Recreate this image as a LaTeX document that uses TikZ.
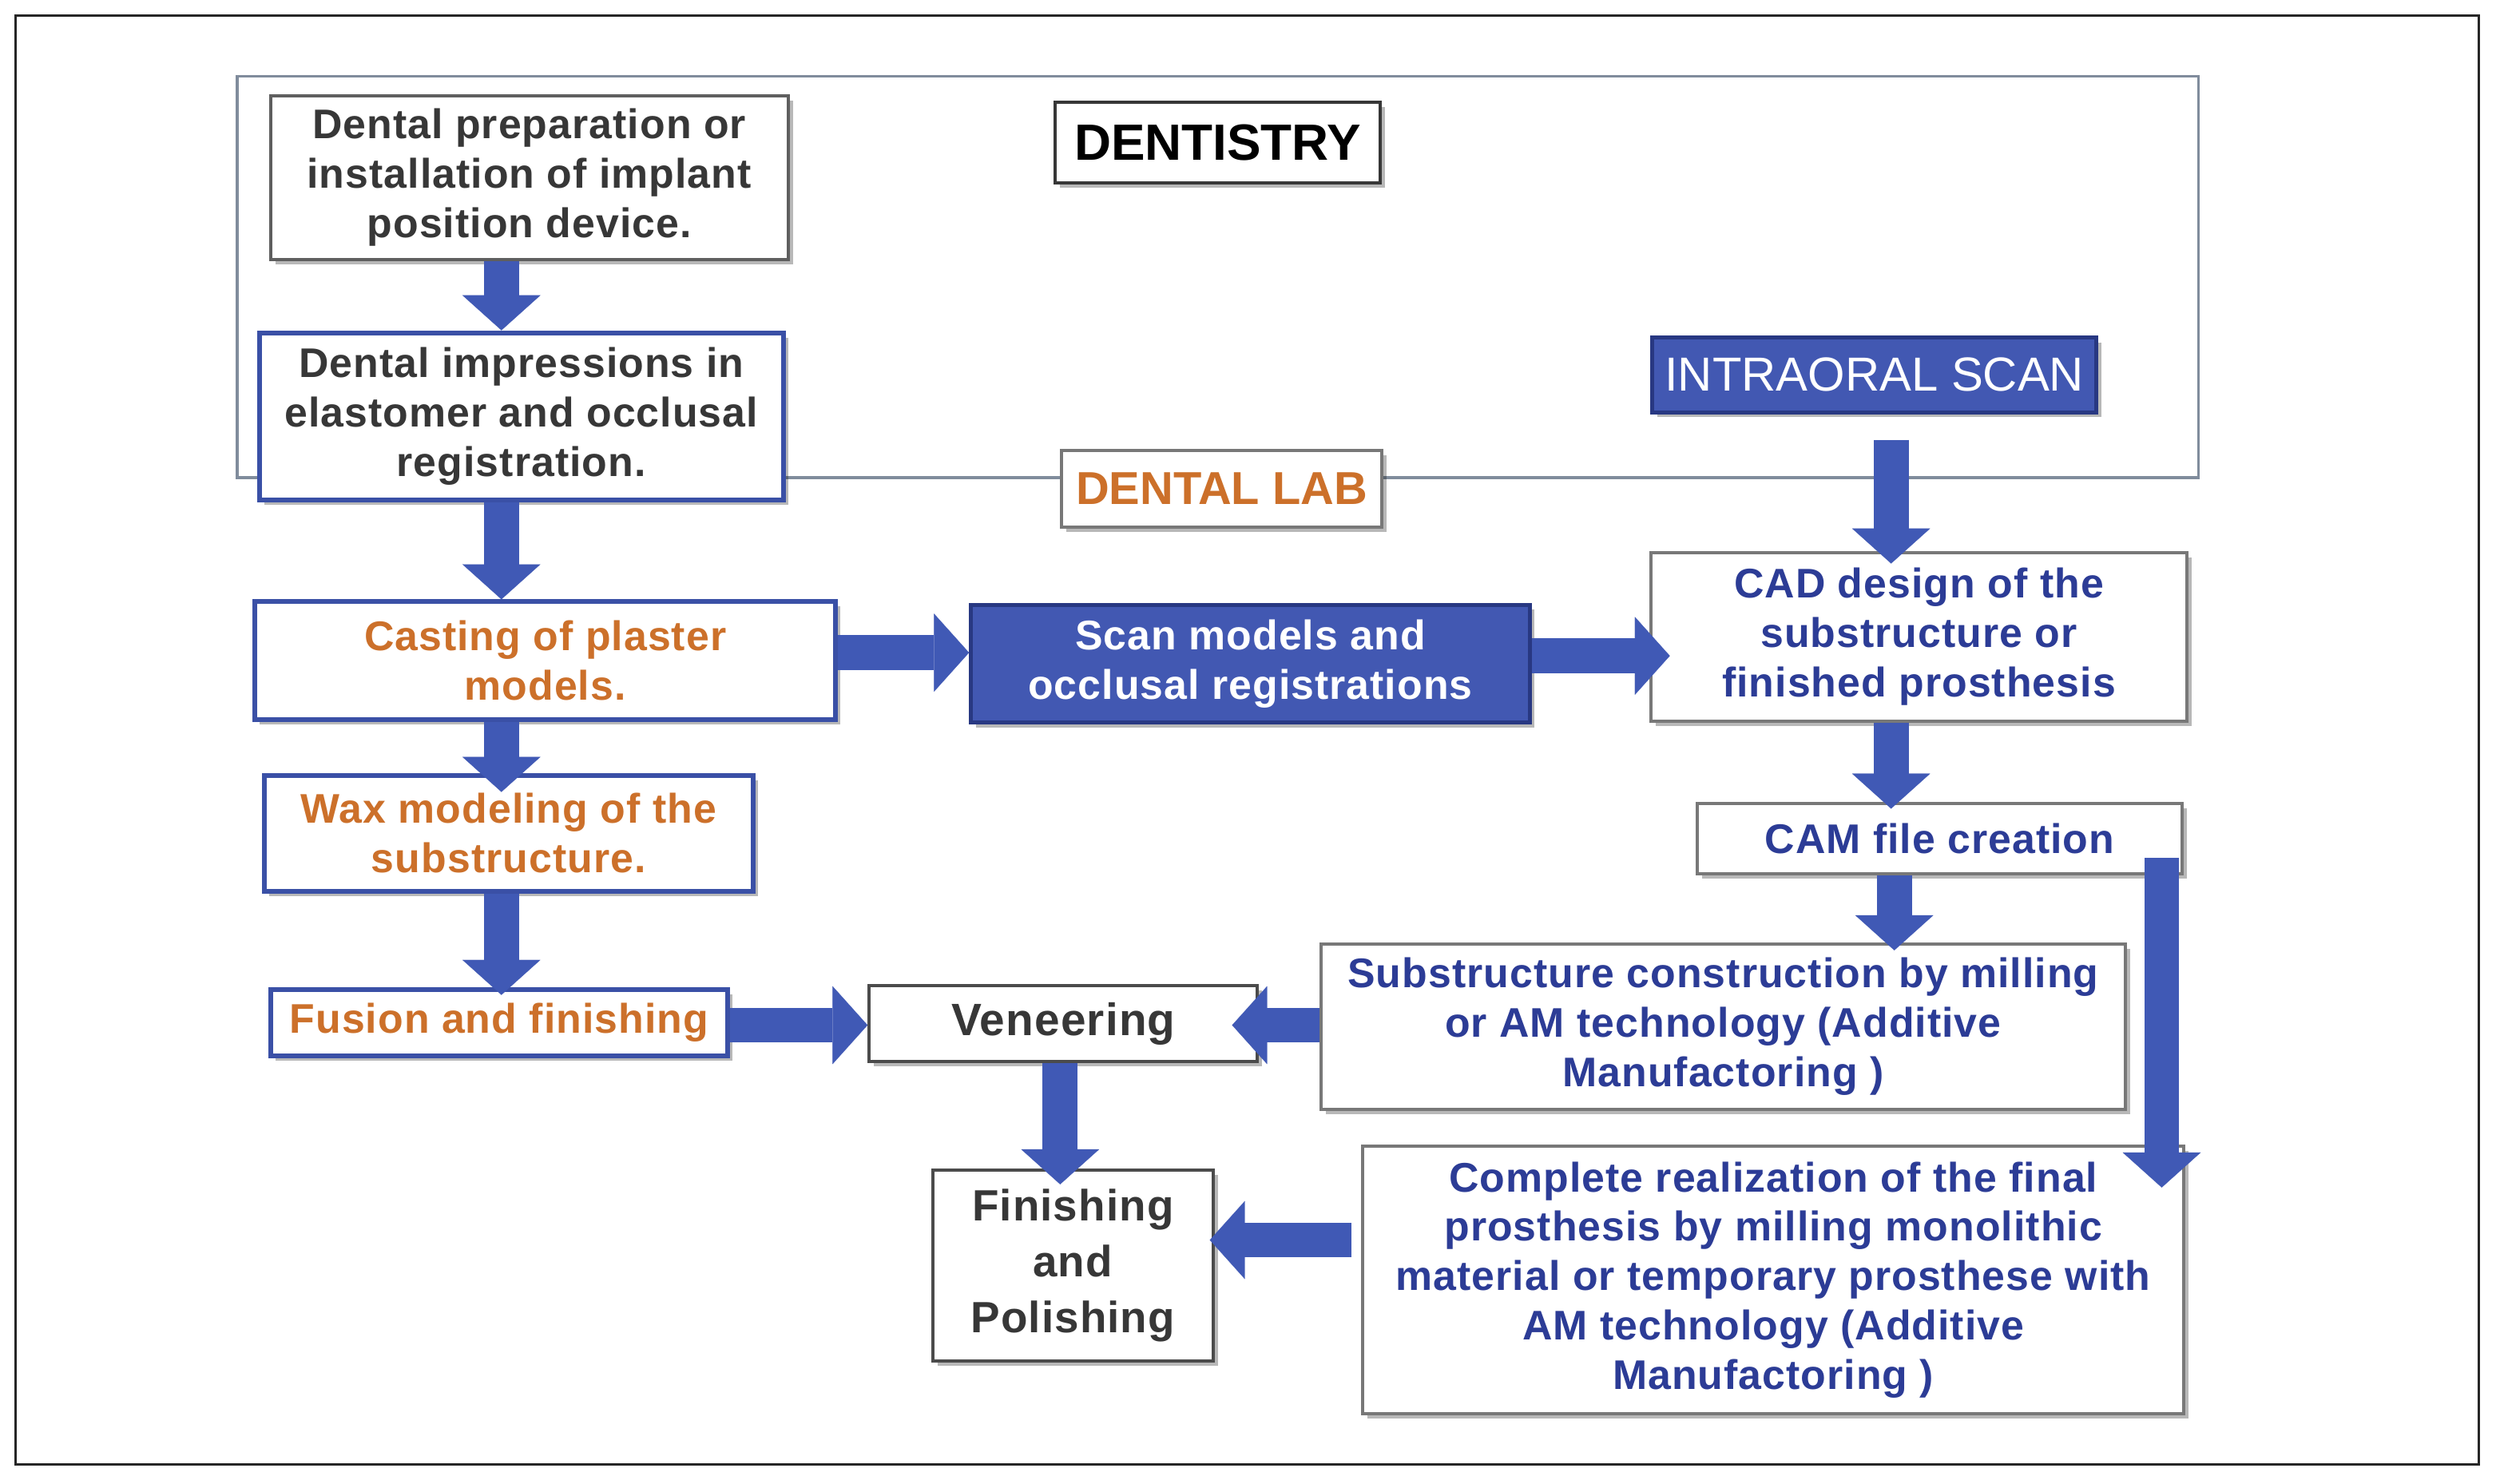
\documentclass[tikz,border=0pt]{standalone}
\usepackage{fontspec}
\setmainfont{Liberation Sans}
\newfontfamily\bxfont[LetterSpace=2]{Liberation Sans}
\usetikzlibrary{arrows.meta,shadows,calc}
\definecolor{arrowblue}{RGB}{64,89,181}
\definecolor{boxblue}{RGB}{58,80,166}
\definecolor{fillblue}{RGB}{66,88,178}
\definecolor{darkfill}{RGB}{40,56,130}
\definecolor{txtblue}{RGB}{44,60,150}
\definecolor{txtorange}{RGB}{204,112,42}
\definecolor{txtdark}{RGB}{55,55,55}
\definecolor{regiongray}{RGB}{128,140,156}
\definecolor{boxgray}{RGB}{120,120,120}
\tikzset{
  base/.style={align=center, inner sep=0pt, fill=white,
    drop shadow={shadow xshift=3pt, shadow yshift=-3pt, opacity=0.28, fill=black}},
  txt/.style={font=\bxfont\bfseries\fontsize{26}{31}\selectfont},
  darkbox/.style={base, txt, draw=txtdark!90, line width=2pt, text=txtdark},
  bluebox/.style={base, txt, draw=boxblue, line width=3pt},
  graybox/.style={base, txt, draw=boxgray, line width=2pt, text=txtblue},
  fillbox/.style={base, txt, fill=fillblue, draw=darkfill, line width=2.5pt, text=white},
  blk/.style={draw=arrowblue, line width=22pt,
    -{Triangle[length=22pt,width=49pt,line width=0.1pt]}},
}
\begin{document}
\begin{tikzpicture}[x=1pt,y=-1pt]
\useasboundingbox (0,0) rectangle (1568,932);
\fill[white] (0,0) rectangle (1568,932);
% outer frame and region
\draw[line width=1.5pt, black!85] (10,10) rectangle (1557,920);
\draw[line width=1.8pt, regiongray] (149,48) rectangle (1381,300);

% column / row coordinates
\coordinate (colL) at (315,0);
\coordinate (colR) at (1188,0);
\coordinate (colS) at (1190,0);
\coordinate (colV) at (666,0);
\coordinate (rowA) at (0,410);
\coordinate (rowB) at (0,412);
\coordinate (rowC) at (0,644);
\coordinate (rowD) at (0,779);

% nodes
\node[darkbox, draw=txtdark!80, minimum width=325, minimum height=103] (A) at (332.5,111.5)
  {Dental preparation or\\installation of implant\\position device.};
\node[bluebox, text=txtdark, minimum width=329, minimum height=105] (B) at (327.5,261.5)
  {Dental impressions in\\elastomer and occlusal\\registration.};
\node[base, draw=txtdark, line width=2pt, minimum width=204, minimum height=51,
  font=\bfseries\fontsize{32}{36}\selectfont, text=black] (dent) at (765,89.5) {DENTISTRY};
\node[base, draw=boxgray, line width=2pt, minimum width=201, minimum height=48,
  font=\bfseries\fontsize{29}{34}\selectfont, text=txtorange] (lab) at (767.5,307) {DENTAL LAB};
\node[base, fill=fillblue, draw=darkfill, line width=2.5pt, minimum width=279, minimum height=47,
  font=\fontsize{30}{34}\selectfont, text=white] (iscan) at (1177.5,235.5) {INTRAORAL SCAN};
\node[graybox, minimum width=337, minimum height=106] (cad) at (1205.5,400)
  {CAD design of the\\substructure or\\finished prosthesis};
\node[bluebox, text=txtorange, minimum width=365, minimum height=74] (cast) at (342.5,415)
  {Casting of plaster\\models.};
\node[fillbox, minimum width=351, minimum height=74] (scan) at (785.5,417)
  {Scan models and\\occlusal registrations};
\node[bluebox, text=txtorange, minimum width=307, minimum height=73] (wax) at (319.5,523.5)
  {Wax modeling of the\\substructure.};
\node[bluebox, text=txtorange, minimum width=287, minimum height=42] (fus) at (313.5,642.5)
  {Fusion and finishing};
\node[darkbox, minimum width=244, minimum height=48,
  font=\bxfont\bfseries\fontsize{28.5}{33}\selectfont] (ven) at (668,643) {Veneering};
\node[graybox, minimum width=305, minimum height=44] (cam) at (1218.5,527) {CAM file creation};
\node[graybox, minimum width=505, minimum height=104] (sub) at (1082.5,645)
  {Substructure construction by milling\\or AM technology (Additive\\Manufactoring )};
\node[graybox, minimum width=516, minimum height=168] (comp) at (1114,804)
  {Complete realization of the final\\prosthesis by milling monolithic\\material or temporary prosthese with\\AM technology (Additive\\Manufactoring )};
\node[darkbox, minimum width=176, minimum height=120,
  font=\bxfont\bfseries\fontsize{27.5}{35}\selectfont] (fin) at (674,795)
  {Finishing\\and\\Polishing};

% connectors
\draw[blk] (A.south -| colL) -- (B.north -| colL);
\draw[blk] (B.south -| colL) -- (cast.north -| colL);
\draw[blk] (cast.south -| colL) -- ($(wax.north -| colL)+(0,12)$);
\draw[blk] (wax.south -| colL) -- ($(fus.north -| colL)+(0,5)$);
\draw[blk] (cast.east |- rowA) -- (scan.west |- rowA);
\draw[blk] (scan.east |- rowB) -- ($(cad.west |- rowB)+(13,0)$);
\draw[blk] ($(iscan.south -| colR)+(0,16)$) -- ($(cad.north -| colR)+(0,8)$);
\draw[blk] (cad.south -| colR) -- ($(cam.north -| colR)+(0,4)$);
\draw[blk] (cam.south -| colS) -- ($(sub.north -| colS)+(0,5)$);
\coordinate (lstart) at ($(cam.east)+(-14,12)$);
\draw[blk] (lstart) -- ($(lstart |- comp.north)+(0,27)$);
\draw[blk] (fus.east |- rowC) -- (ven.west |- rowC);
\draw[blk] (sub.west |- rowC) -- ($(ven.east |- rowC)+(-17,0)$);
\draw[blk] (ven.south -| colV) -- ($(fin.north -| colV)+(0,10)$);
\draw[blk] ($(comp.west |- rowD)+(-6,0)$) -- ($(fin.east |- rowD)+(-3,0)$);
\end{tikzpicture}
\end{document}
